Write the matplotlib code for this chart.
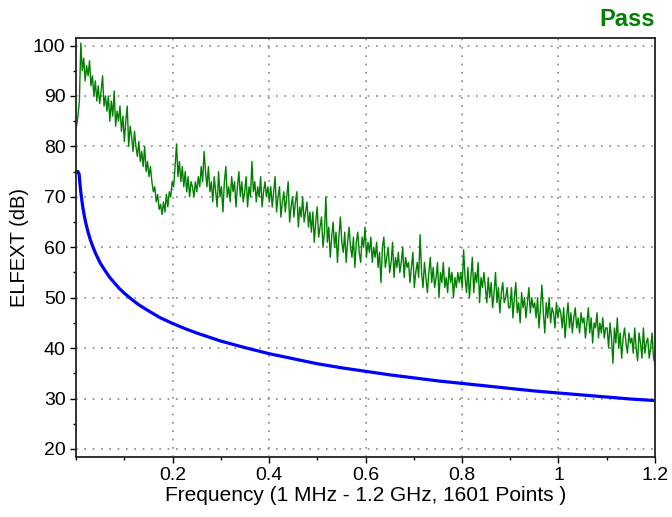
import numpy as np
import matplotlib.pyplot as plt
from matplotlib.ticker import MultipleLocator

plt.rcParams['font.family'] = ['Liberation Sans', 'DejaVu Sans']

# limit line (blue), read at sample frequencies (GHz)
limit_freq = [0.001, 0.004, 0.0065, 0.008, 0.01, 0.0125, 0.015, 0.0175, 0.02, 0.025,
              0.03, 0.035, 0.04, 0.045, 0.05, 0.06, 0.07, 0.08, 0.09, 0.1,
              0.115, 0.13, 0.15, 0.175, 0.2, 0.225, 0.25, 0.275, 0.3, 0.35,
              0.4, 0.45, 0.5, 0.55, 0.6, 0.65, 0.7, 0.75, 0.8, 0.85,
              0.9, 0.95, 1.0, 1.05, 1.1, 1.15, 1.2]
limit_db = [75.0, 75.0, 74.5, 72.8, 70.9, 69.0, 67.4, 66.1, 64.9, 63.0,
            61.4, 60.1, 58.9, 57.9, 56.9, 55.4, 54.0, 52.9, 51.8, 50.9,
            49.7, 48.6, 47.4, 46.0, 44.9, 43.9, 43.0, 42.2, 41.4, 40.1,
            38.9, 37.9, 36.9, 36.1, 35.4, 34.7, 34.1, 33.5, 33.0, 32.5,
            32.0, 31.5, 31.1, 30.7, 30.3, 29.9, 29.6]

# measured ELFEXT (green), evenly spaced over the 1 MHz - 1.2 GHz sweep
green_db = [
    84, 86, 89, 100.5,
    95, 97.5, 93, 96, 94, 97, 92,
    94, 90, 93, 89, 92, 88.5, 91, 94, 88, 90, 87,
    90, 85, 89, 86, 91, 84, 87, 85, 88,
    83, 86, 81, 85, 88, 80, 84, 82, 79, 83, 80, 78,
    81, 77, 79, 76, 80, 75, 77, 74, 76,
    73, 71, 72, 69, 70.5, 67.5, 68.5,
    66.5, 69, 67, 70.5, 68, 71,
    70, 73, 72, 76, 80.5, 74,
    77, 73, 76, 72, 75, 71, 74, 70, 73, 72, 70, 73, 71,
    74, 72, 76, 73, 79, 75, 72, 76, 71,
    73, 69, 74, 71, 68, 75, 70, 72, 67, 73, 76, 70, 72, 69, 74, 71,
    73, 68, 72, 75, 70, 73, 69, 71, 74, 68, 72, 70, 77, 71, 73, 69,
    72, 70, 74, 68, 71, 73, 70, 72, 69,
    72, 68, 71, 74, 67, 70, 72, 66, 69, 71, 67, 70, 73, 65, 68, 70,
    66, 69, 71, 64, 68, 66, 70, 65, 67, 69, 64, 67,
    63, 67, 61, 65, 68, 62, 64, 66, 60, 63, 70, 61, 64, 58, 62, 65,
    60, 63, 57, 62, 66, 61,
    59, 63, 57, 61, 64, 60, 58, 62, 56, 61, 63, 59, 57, 62, 60, 64,
    58, 61, 59, 62, 57, 60,
    58, 61, 56, 59, 53, 60, 62, 56, 58, 60, 55, 57, 61, 54, 58, 56,
    59, 55, 57, 60, 54, 58, 56,
    57, 53, 56, 59, 52, 55, 57, 54, 62.5, 55, 52, 57, 54, 51, 55, 58,
    53, 56, 52, 54, 57, 50, 55, 53, 57, 52, 54, 51, 56, 53, 55, 50,
    54, 52, 55, 53,
    55, 52, 59.5, 54, 51, 56, 50, 54, 58, 51, 55, 53, 57, 49, 54, 52, 55,
    52, 49, 54, 50, 53, 48, 51, 55, 49, 52, 47, 51, 53, 49, 50, 52, 48,
    48, 52, 46, 50, 53, 47, 49, 45, 51, 48, 50, 46, 49, 52, 47, 50, 48,
    49, 46, 50, 44, 48, 52.5, 47, 43, 49, 46, 50, 45, 48, 47, 44, 49, 46, 48,
    47, 44, 48, 42, 46, 49, 44, 47, 43, 46, 48, 44, 46, 43, 47, 45,
    46, 42, 45, 48, 43, 46, 41, 45, 44, 47, 42, 45, 43, 46, 42, 44,
    44, 40, 45, 42, 37, 44, 41, 46, 40, 43, 38, 42, 44, 41, 39, 43, 41,
    42, 39, 44, 40, 37.5, 43, 41, 38, 44, 39, 41, 42, 38, 40, 43, 38, 37,
]
green_freq = np.linspace(0.001, 1.2, len(green_db))

x_ticks = [0.2, 0.4, 0.6, 0.8, 1.0, 1.2]
x_labels = ['0.2', '0.4', '0.6', '0.8', '1', '1.2']
y_ticks = [20, 30, 40, 50, 60, 70, 80, 90, 100]

fig = plt.figure(figsize=(6.72, 5.17), dpi=100)
ax = fig.add_axes([0.1131, 0.116, 0.8616, 0.8105])

ax.plot(green_freq, green_db, color='#008000', linewidth=1.0)
ax.plot(limit_freq, limit_db, color='#0000ff', linewidth=2.3)

ax.set_xlim(0, 1.2)
ax.set_ylim(18.4, 101.5)
ax.set_xticks(x_ticks)
ax.set_xticklabels(x_labels)
ax.set_yticks(y_ticks)
ax.xaxis.set_minor_locator(MultipleLocator(0.1))
ax.yaxis.set_minor_locator(MultipleLocator(5))
ax.tick_params(which='major', direction='out', length=4, width=1, labelsize=14, colors='black')
ax.tick_params(which='minor', direction='out', length=2.5, width=1)

ax.grid(True, which='major', color='#888888', linestyle=(0, (1, 4)), linewidth=1.2)
for s in ax.spines.values():
    s.set_linewidth(1.3)
    s.set_color('#222222')

ax.set_xlabel('Frequency (1 MHz - 1.2 GHz, 1601 Points )', fontsize=15, labelpad=1)
ax.set_ylabel('ELFEXT (dB)', fontsize=14.5, labelpad=3)

fig.text(0.974, 0.963, 'Pass', color='#008000', fontsize=17, fontweight='bold',
         ha='right', va='center')

fig.savefig('out.png', dpi=100)
